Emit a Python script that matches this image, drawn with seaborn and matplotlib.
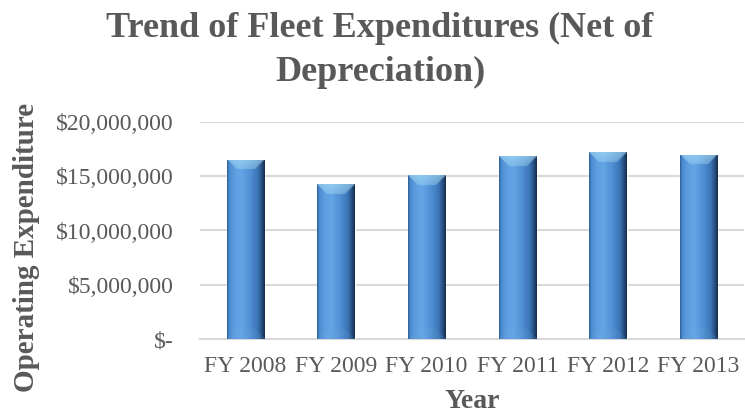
import numpy as np
import pandas as pd
import matplotlib
matplotlib.use("Agg")
import matplotlib.pyplot as plt
import seaborn as sns
from matplotlib.colors import to_rgb

# Fleet operating expenditure by fiscal year (net of depreciation)
years = ["FY 2008", "FY 2009", "FY 2010", "FY 2011", "FY 2012", "FY 2013"]
expenditure = [16530000, 14260000, 15090000, 16840000, 17230000, 16990000]
y_ticks = [0, 5000000, 10000000, 15000000, 20000000]
y_tick_labels = ["$-", "$5,000,000", "$10,000,000", "$15,000,000", "$20,000,000"]

title_lines = ["Trend of Fleet Expenditures (Net of", "Depreciation)"]
x_label = "Year"
y_label = "Operating Expenditure"

df = pd.DataFrame({"year": years, "expenditure": expenditure})

sns.set_theme(style="white")
plt.rcParams["font.family"] = ["Liberation Serif", "DejaVu Serif"]

text_grey = "#595959"
grid_grey = "#d9d9d9"
base_blue = "#4f8fd3"

W, H, DPI = 745, 415, 100
fig = plt.figure(figsize=(W / DPI, H / DPI), dpi=DPI)
ax = fig.add_axes([200 / W, 1 - 339 / H, 544 / W, (339 - 122) / H])

sns.barplot(data=df, x="year", y="expenditure", color=base_blue,
            width=0.41, saturation=1, ax=ax, zorder=3)

ax.set_ylim(0, 20000000)
ax.set_xlim(-0.5, len(years) - 0.5)
ax.set_yticks(y_ticks)
ax.set_yticklabels(y_tick_labels)
ax.yaxis.grid(True, color=grid_grey, linewidth=1.5, zorder=0)
ax.set_axisbelow(True)
for side in ["left", "top", "right"]:
    ax.spines[side].set_visible(False)
ax.spines["bottom"].set_color(grid_grey)
ax.spines["bottom"].set_linewidth(1.5)
ax.tick_params(axis="y", length=0, pad=19, labelsize=17, labelcolor=text_grey)
ax.tick_params(axis="x", length=0, pad=12, labelsize=17, labelcolor=text_grey)

ax.set_xlabel(x_label, fontsize=20, fontweight="bold", color=text_grey, labelpad=9)
ax.set_ylabel(y_label, fontsize=21, fontweight="bold", color=text_grey)
ax.yaxis.set_label_coords(-160 / 544, 0.42)

# Two-line chart title, each line placed on its own baseline
for line, base_px in zip(title_lines, [37, 81]):
    fig.text(380 / W, 1 - base_px / H, line, ha="center", va="baseline",
             fontsize=26, fontweight="bold", color=text_grey)

# Cylinder-like shading with a bevelled top, painted inside each bar
def profile(u):
    stops = [0.0, 0.06, 0.2, 0.38, 0.62, 0.82, 0.93, 1.0]
    cols = ["#2b5a8f", "#4c8bd0", "#5c9de0", "#63a6e6", "#4f8ed3",
            "#3a73b3", "#234a78", "#142b48"]
    rgb = np.array([to_rgb(c) for c in cols])
    return np.stack([np.interp(u, stops, rgb[:, k]) for k in range(3)], axis=-1)

fig.canvas.draw()
to_px = ax.transData
scale = 4.0
for patch in ax.patches:
    x0, y0 = patch.get_x(), patch.get_y()
    bw, bh = patch.get_width(), patch.get_height()
    (px0, py0) = to_px.transform((x0, y0))
    (px1, py1) = to_px.transform((x0 + bw, y0 + bh))
    npx = max(int(round((px1 - px0) * scale)), 2)
    npy = max(int(round((py1 - py0) * scale)), 2)
    xs = (np.arange(npx) + 0.5) / scale
    ys = (np.arange(npy) + 0.5) / scale
    XX, YY = np.meshgrid(xs, ys)
    wpx, hpx = npx / scale, npy / scale
    u = XX / wpx
    img = profile(u)
    dl, dr = XX, wpx - XX
    dt, db = YY, hpx - YY
    bev = 10.0
    top = (dt < bev) & (dt <= dl) & (dt <= dr)
    t = dt / bev
    light_top = profile(u) * 0.4 + np.array(to_rgb("#aee0f8")) * 0.6
    light_top = light_top * (1 - 0.4 * t[..., None]) + profile(u) * 0.4 * t[..., None]
    img[top] = light_top[top]
    bot = (db < bev) & (db <= dl) & (db <= dr)
    dark_bot = profile(u) * 0.85 + np.array(to_rgb("#6fa8dc")) * 0.15
    img[bot] = dark_bot[bot]
    im = ax.imshow(img, extent=(x0, x0 + bw, y0, y0 + bh), origin="upper",
                   aspect="auto", interpolation="bilinear", zorder=4)
    im.set_clip_path(patch)

ax.set_xlim(-0.5, len(years) - 0.5)
ax.set_ylim(0, 20000000)

fig.savefig("out.png", dpi=DPI)
